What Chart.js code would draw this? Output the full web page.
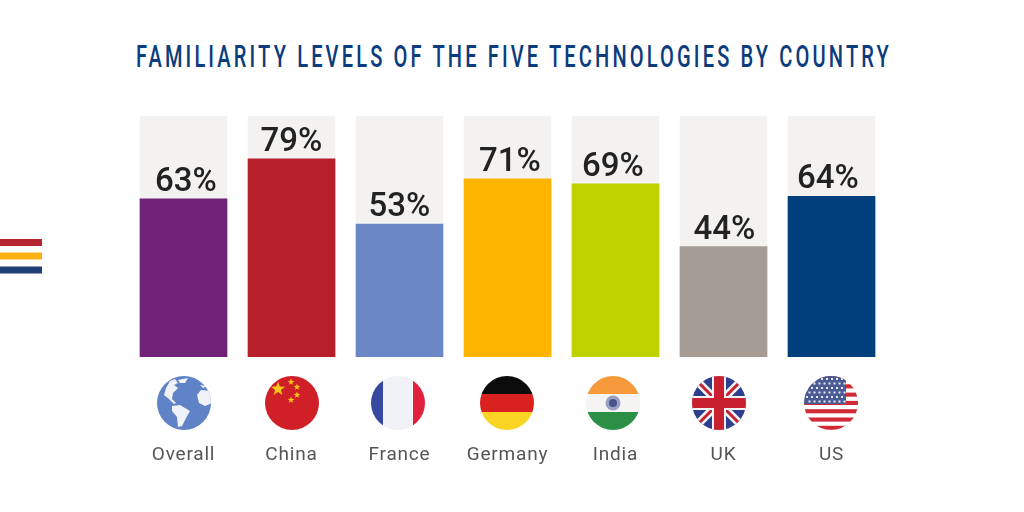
<!DOCTYPE html>
<html>
<head>
<meta charset="utf-8">
<title>Familiarity levels</title>
<script src="https://cdn.jsdelivr.net/npm/chart.js@4"></script>
<style>
  html, body { margin: 0; background: #fff; }
  #wrap { position: relative; width: 1024px; height: 512px; overflow: hidden; }
  h1 {
    position: absolute; left: 136px; top: 37px; margin: 0;
    color: #0b3c7d; white-space: nowrap; transform-origin: left top;
    font: 500 32px Roboto, sans-serif;
    letter-spacing: 5px;
  }
  canvas { position: absolute; left: 0; top: 0; }
</style>
</head>
<body>
<div id="wrap">
  <h1 id="title">FAMILIARITY LEVELS OF THE FIVE TECHNOLOGIES BY COUNTRY</h1>
  <canvas id="chart" width="1024" height="512"></canvas>
</div>
<script>
const countries = ['Overall', 'China', 'France', 'Germany', 'India', 'UK', 'US'];
const familiarity = [63, 79, 53, 71, 69, 44, 64];
const trackValues = [96, 96, 96, 96, 96, 96, 96];
const barColors = ['#702279', '#b71f2b', '#6a86c5', '#fdb400', '#bfd200', '#a59c96', '#003f7c'];
const trackColor = '#f3f2f1';
const stripeColors = ['#b5252f', '#fbb116', '#1d3f75'];
// the artwork is hand placed, so labels and flags sit a little off the bar centres
const labelNudge = [2.5, 0, 0, 2.5, -2.5, 1, -3.5];
const flagNudge = [0.5, 0.5, -1.5, -0.5, -2.5, -4.5, -0.5];

// squeeze the title to the width it has in the reference
const titleEl = document.getElementById('title');
titleEl.style.transform = 'scaleX(' + 756 / titleEl.getBoundingClientRect().width + ')';

function drawStripes(ctx) {
  [239, 252.5, 266.5].forEach((y, i) => {
    ctx.fillStyle = stripeColors[i];
    ctx.fillRect(0, y, 42, 7);
  });
}

function drawStar(ctx, x, y, r) {
  ctx.beginPath();
  for (let i = 0; i < 10; i++) {
    const rad = i % 2 ? r * 0.4 : r;
    const a = -Math.PI / 2 + i * Math.PI / 5;
    ctx.lineTo(x + rad * Math.cos(a), y + rad * Math.sin(a));
  }
  ctx.closePath();
  ctx.fill();
}

function blob(ctx, points) {
  ctx.beginPath();
  points.forEach(([x, y]) => ctx.lineTo(x, y));
  ctx.closePath();
  ctx.fill();
}

// each flag draws in a box around 0,0 with radius 27, clipped to a circle
const flagPainters = {
  Overall(ctx) {
    ctx.fillStyle = '#5f83c6';
    ctx.fillRect(-27, -27, 54, 54);
    ctx.fillStyle = '#f0f2f7';
    // north america, greenland, south america, africa, europe
    blob(ctx, [[-18, -15], [-14, -22], [-9, -24], [-6, -20], [-10, -18], [-6, -15], [-11, -10], [-12, -4], [-8, 0], [-10, 1], [-15, -4], [-20, -8]]);
    blob(ctx, [[-6, -23], [4, -25], [1, -20], [-4, -20]]);
    blob(ctx, [[-12, 3], [-4, 2], [6, 8], [1, 17], [-2, 23], [-6, 24], [-7, 14], [-12, 8]]);
    blob(ctx, [[13, -8], [17, -13], [27, -12], [28, 0], [21, 3], [15, 0]]);
    blob(ctx, [[16, -18], [23, -17], [19, -15]]);
  },
  China(ctx) {
    ctx.fillStyle = '#cf2027';
    ctx.fillRect(-27, -27, 54, 54);
    ctx.fillStyle = '#fbc815';
    drawStar(ctx, -14, -14, 7.5);
    [[-1, -21], [5, -16], [5, -8], [-1, -3]].forEach(([x, y]) => drawStar(ctx, x, y, 3.5));
  },
  France(ctx) {
    ctx.fillStyle = '#f0f2f6';
    ctx.fillRect(-27, -27, 54, 54);
    ctx.fillStyle = '#36499f';
    ctx.fillRect(-27, -27, 12, 54);
    ctx.fillStyle = '#e0223f';
    ctx.fillRect(15, -27, 12, 54);
  },
  Germany(ctx) {
    [['#0c0c0c', -27], ['#d9211f', -9], ['#f9d423', 9]].forEach(([c, y]) => {
      ctx.fillStyle = c;
      ctx.fillRect(-27, y, 54, 18);
    });
  },
  India(ctx) {
    [['#f6993a', -27], ['#f4f5f3', -9], ['#2b9046', 9]].forEach(([c, y]) => {
      ctx.fillStyle = c;
      ctx.fillRect(-27, y, 54, 18);
    });
    ctx.fillStyle = '#9aa0c0';
    ctx.beginPath();
    ctx.arc(0, 0, 7.5, 0, Math.PI * 2);
    ctx.fill();
    ctx.fillStyle = '#47548f';
    ctx.beginPath();
    ctx.arc(0, 0, 4, 0, Math.PI * 2);
    ctx.fill();
  },
  UK(ctx) {
    ctx.fillStyle = '#2f3f8f';
    ctx.fillRect(-27, -27, 54, 54);
    ctx.strokeStyle = '#f4f4f6';
    ctx.lineWidth = 8;
    ctx.beginPath();
    ctx.moveTo(-27, -27); ctx.lineTo(27, 27);
    ctx.moveTo(27, -27); ctx.lineTo(-27, 27);
    ctx.stroke();
    ctx.strokeStyle = '#c8202f';
    ctx.lineWidth = 3;
    ctx.stroke();
    ctx.fillStyle = '#f4f4f6';
    ctx.fillRect(-7, -27, 14, 54);
    ctx.fillRect(-27, -7, 54, 14);
    ctx.fillStyle = '#c8202f';
    ctx.fillRect(-5, -27, 10, 54);
    ctx.fillRect(-27, -5, 54, 10);
  },
  US(ctx) {
    ctx.fillStyle = '#fff';
    ctx.fillRect(-27, -27, 54, 54);
    ctx.fillStyle = '#cf2a36';
    for (let i = 0; i < 7; i++) {
      ctx.fillRect(-27, -27 + i * 8.3, 54, 4.1);
    }
    ctx.fillStyle = '#4a5a93';
    ctx.fillRect(-27, -27, 42, 28);
    ctx.fillStyle = '#e6e9f3';
    for (let row = 0; row < 6; row++) {
      for (let col = 0; col < 8; col++) {
        ctx.fillRect(-25 + col * 5 + (row % 2) * 2.5, -25 + row * 4.5, 2, 2);
      }
    }
  }
};

const decorations = {
  id: 'decorations',
  beforeDraw(chart) {
    chart.ctx.letterSpacing = '0.8px';
    drawStripes(chart.ctx);
  },
  afterDraw(chart) {
    const ctx = chart.ctx;
    const xScale = chart.scales.x;
    countries.forEach((name, i) => {
      ctx.save();
      ctx.translate(xScale.getPixelForValue(i) + flagNudge[i], 403);
      ctx.beginPath();
      ctx.arc(0, 0, 27, 0, Math.PI * 2);
      ctx.clip();
      flagPainters[name](ctx);
      ctx.restore();
    });
  }
};

const valueLabels = {
  id: 'valueLabels',
  afterDatasetsDraw(chart) {
    const ctx = chart.ctx;
    const bars = chart.getDatasetMeta(0).data;
    ctx.save();
    ctx.fillStyle = '#222222';
    ctx.font = '500 33px Roboto, sans-serif';
    ctx.textAlign = 'center';
    ctx.textBaseline = 'alphabetic';
    ctx.letterSpacing = '0px';
    bars.forEach((bar, i) => {
      ctx.fillText(familiarity[i] + '%', bar.x + labelNudge[i], bar.y - 8);
    });
    ctx.restore();
  }
};

new Chart(document.getElementById('chart'), {
  type: 'bar',
  data: {
    labels: countries,
    datasets: [
      { data: familiarity, backgroundColor: barColors, barThickness: 87, grouped: false },
      { data: trackValues, backgroundColor: trackColor, barThickness: 87, grouped: false }
    ]
  },
  options: {
    responsive: false,
    animation: false,
    devicePixelRatio: 1,
    layout: { padding: { left: 129.5, right: 138.5, top: 106, bottom: 0 } },
    plugins: { legend: { display: false }, title: { display: false }, tooltip: { enabled: false } },
    scales: {
      x: {
        grid: { display: false, drawTicks: false },
        border: { display: false },
        ticks: { color: '#555555', font: { size: 19, family: 'Roboto' }, padding: 87, maxRotation: 0, autoSkip: false },
        afterFit(scale) { scale.height = 155; }
      },
      y: { display: false, min: 0, max: 100 }
    }
  },
  plugins: [decorations, valueLabels]
});
</script>
</body>
</html>
